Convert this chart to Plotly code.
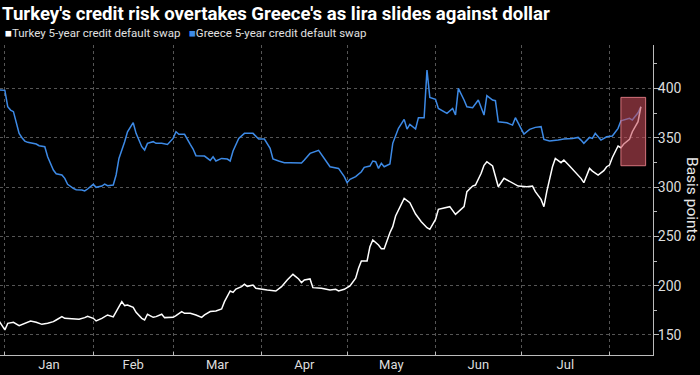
import plotly.graph_objects as go

title_text = "Turkey's credit risk overtakes Greece's as lira slides against dollar"
turkey_name = "Turkey 5-year credit default swap"
greece_name = "Greece 5-year credit default swap"
y_title = "Basis points"

greece_dates = [
    "2017-12-30", "2018-01-01", "2018-01-02", "2018-01-03", "2018-01-04", "2018-01-05", "2018-01-06",
    "2018-01-07", "2018-01-08", "2018-01-09", "2018-01-11", "2018-01-12", "2018-01-13", "2018-01-15",
    "2018-01-16", "2018-01-17", "2018-01-18", "2018-01-19", "2018-01-21", "2018-01-22", "2018-01-23",
    "2018-01-25", "2018-01-26", "2018-01-28", "2018-01-29", "2018-01-30", "2018-02-01", "2018-02-02",
    "2018-02-03", "2018-02-04", "2018-02-05", "2018-02-06", "2018-02-08", "2018-02-09", "2018-02-10",
    "2018-02-11", "2018-02-12", "2018-02-13", "2018-02-15", "2018-02-16", "2018-02-18", "2018-02-19",
    "2018-02-20", "2018-02-22", "2018-02-23", "2018-02-25", "2018-02-27", "2018-03-01", "2018-03-02",
    "2018-03-03", "2018-03-05", "2018-03-07", "2018-03-08", "2018-03-09", "2018-03-12", "2018-03-14",
    "2018-03-15", "2018-03-16", "2018-03-18", "2018-03-20", "2018-03-21", "2018-03-22", "2018-03-24",
    "2018-03-26", "2018-03-29", "2018-03-31", "2018-04-02", "2018-04-04", "2018-04-05", "2018-04-07",
    "2018-04-09", "2018-04-11", "2018-04-13", "2018-04-15", "2018-04-16", "2018-04-18", "2018-04-21",
    "2018-04-22", "2018-04-24", "2018-04-25", "2018-04-28", "2018-04-30", "2018-05-01", "2018-05-02",
    "2018-05-04", "2018-05-06", "2018-05-07", "2018-05-09", "2018-05-10", "2018-05-11", "2018-05-12",
    "2018-05-13", "2018-05-14", "2018-05-16", "2018-05-17", "2018-05-19", "2018-05-21", "2018-05-22",
    "2018-05-23", "2018-05-25", "2018-05-26", "2018-05-28", "2018-05-29", "2018-05-30", "2018-06-01",
    "2018-06-02", "2018-06-05", "2018-06-07", "2018-06-08", "2018-06-09", "2018-06-11", "2018-06-12",
    "2018-06-14", "2018-06-16", "2018-06-18", "2018-06-19", "2018-06-21", "2018-06-22", "2018-06-23",
    "2018-06-26", "2018-06-28", "2018-06-29", "2018-07-02", "2018-07-04", "2018-07-06", "2018-07-08",
    "2018-07-09", "2018-07-11", "2018-07-14", "2018-07-16", "2018-07-19", "2018-07-21", "2018-07-22",
    "2018-07-23", "2018-07-25", "2018-07-26", "2018-07-27", "2018-07-29", "2018-07-31", "2018-08-02",
    "2018-08-04", "2018-08-05", "2018-08-08", "2018-08-09", "2018-08-11", "2018-08-12",
]
greece_cds = [
    398.3, 398.0, 381.4, 378.0, 376.4, 366.0, 354.4,
    350.0, 346.6, 345.3, 344.3, 343.6, 341.9, 340.9,
    330.7, 323.0, 317.2, 313.5, 312.2, 308.8, 302.7,
    298.7, 297.3, 297.0, 296.0, 298.0, 302.7, 299.7,
    300.0, 301.0, 303.0, 301.4, 302.0, 312.2, 329.0,
    336.5, 346.0, 356.0, 365.2, 354.4, 340.9, 337.5,
    344.3, 346.0, 344.3, 344.3, 343.2, 349.3, 356.0,
    353.4, 353.4, 343.2, 338.5, 331.8, 331.4, 327.0,
    330.7, 326.4, 329.0, 328.4, 326.4, 336.5, 349.3,
    354.4, 354.4, 348.6, 348.6, 339.2, 328.4, 326.4,
    324.7, 324.7, 324.3, 324.3, 327.4, 334.1, 337.2,
    333.0, 325.0, 320.6, 318.9, 310.5, 304.4, 307.8,
    310.5, 315.5, 320.0, 321.3, 326.4, 325.7, 318.9,
    324.0, 320.6, 323.3, 344.3, 359.5, 368.6, 358.8,
    363.5, 358.8, 370.3, 370.3, 418.6, 390.9, 388.9,
    379.7, 374.7, 379.7, 373.0, 400.0, 388.2, 381.4,
    380.4, 388.2, 373.0, 392.6, 388.2, 387.5, 366.2,
    365.2, 362.8, 370.3, 353.7, 358.5, 360.5, 361.2,
    348.3, 346.6, 347.6, 348.6, 349.3, 350.3, 347.6,
    344.3, 350.3, 349.3, 354.4, 347.6, 351.0, 351.7,
    359.5, 367.2, 369.6, 367.9, 375.3, 381.4,
]

turkey_dates = [
    "2017-12-30", "2018-01-01", "2018-01-02", "2018-01-04", "2018-01-06", "2018-01-08", "2018-01-10",
    "2018-01-12", "2018-01-14", "2018-01-16", "2018-01-18", "2018-01-19", "2018-01-21", "2018-01-22",
    "2018-01-25", "2018-01-27", "2018-01-29", "2018-01-30", "2018-02-01", "2018-02-02", "2018-02-04",
    "2018-02-06", "2018-02-08", "2018-02-09", "2018-02-11", "2018-02-12", "2018-02-13", "2018-02-15",
    "2018-02-16", "2018-02-18", "2018-02-19", "2018-02-20", "2018-02-22", "2018-02-23", "2018-02-25",
    "2018-02-26", "2018-02-27", "2018-03-01", "2018-03-02", "2018-03-04", "2018-03-05", "2018-03-07",
    "2018-03-09", "2018-03-11", "2018-03-12", "2018-03-14", "2018-03-16", "2018-03-18", "2018-03-19",
    "2018-03-21", "2018-03-22", "2018-03-23", "2018-03-25", "2018-03-26", "2018-03-27", "2018-03-29",
    "2018-03-30", "2018-04-01", "2018-04-03", "2018-04-06", "2018-04-08", "2018-04-10", "2018-04-11",
    "2018-04-12", "2018-04-14", "2018-04-15", "2018-04-16", "2018-04-18", "2018-04-19", "2018-04-22",
    "2018-04-25", "2018-04-27", "2018-04-28", "2018-04-30", "2018-05-02", "2018-05-04", "2018-05-05",
    "2018-05-06", "2018-05-08", "2018-05-09", "2018-05-10", "2018-05-12", "2018-05-13", "2018-05-14",
    "2018-05-16", "2018-05-17", "2018-05-18", "2018-05-20", "2018-05-21", "2018-05-23", "2018-05-25",
    "2018-05-27", "2018-05-29", "2018-05-30", "2018-06-01", "2018-06-02", "2018-06-04", "2018-06-06",
    "2018-06-08", "2018-06-09", "2018-06-11", "2018-06-12", "2018-06-14", "2018-06-15", "2018-06-17",
    "2018-06-18", "2018-06-19", "2018-06-21", "2018-06-22", "2018-06-23", "2018-06-25", "2018-06-27",
    "2018-06-28", "2018-06-30", "2018-07-03", "2018-07-05", "2018-07-06", "2018-07-08", "2018-07-09",
    "2018-07-10", "2018-07-12", "2018-07-13", "2018-07-15", "2018-07-16", "2018-07-18", "2018-07-20",
    "2018-07-22", "2018-07-23", "2018-07-25", "2018-07-26", "2018-07-28", "2018-07-30", "2018-07-31",
    "2018-08-01", "2018-08-02", "2018-08-04", "2018-08-05", "2018-08-06", "2018-08-08", "2018-08-09",
    "2018-08-11", "2018-08-12",
]
turkey_cds = [
    164.2, 155.1, 161.8, 162.9, 159.5, 161.8, 164.2,
    162.9, 160.8, 161.8, 163.5, 165.2, 168.6, 166.9,
    165.9, 165.9, 167.6, 168.9, 166.9, 164.2, 166.9,
    170.3, 168.3, 173.7, 183.8, 179.8, 180.4, 178.1,
    173.0, 166.9, 165.2, 171.0, 167.9, 168.6, 171.0,
    167.6, 167.9, 167.9, 169.6, 173.7, 172.0, 172.0,
    170.3, 167.9, 170.3, 173.7, 174.3, 176.4, 183.8,
    194.6, 193.2, 196.6, 199.0, 201.4, 199.3, 200.6,
    197.3, 196.3, 195.6, 194.6, 199.0, 205.8, 208.5,
    211.5, 206.8, 203.1, 205.8, 206.8, 198.0, 197.3,
    195.6, 196.3, 194.6, 196.3, 199.7, 207.5, 217.6,
    225.0, 225.0, 239.5, 246.3, 241.2, 237.5, 237.5,
    253.7, 259.8, 270.6, 281.8, 288.5, 284.1, 272.6,
    264.9, 258.8, 257.1, 267.2, 277.4, 279.1, 280.1,
    272.3, 275.0, 280.1, 295.3, 301.0, 302.0, 313.9,
    322.0, 325.7, 321.3, 310.5, 300.3, 308.8, 305.4,
    304.4, 301.0, 300.3, 301.0, 295.3, 287.5, 280.1,
    295.3, 320.6, 329.0, 324.7, 327.4, 321.3, 315.5,
    308.8, 304.4, 318.9, 316.2, 312.2, 316.6, 320.6,
    322.3, 330.0, 341.6, 339.9, 343.6, 348.3, 356.1,
    366.2, 381.4,
]

# highlighted window (dates and basis-point bounds)
highlight_x = ["2018-08-05", "2018-08-13 16:00"]
highlight_y = [321.6, 390.9]

x_range = ["2017-12-30 07:00", "2018-08-16 06:00"]
y_range = [129.7, 444.0]
y_ticks = [150, 200, 250, 300, 350, 400]
y_minor_ticks = [175, 225, 275, 325, 375, 425]

TURKEY_COLOR = "#ffffff"
GREECE_COLOR = "#3d8ae6"
FONT = "Liberation Sans Narrow, Arial Narrow, Roboto, sans-serif"

fig = go.Figure()
fig.add_trace(go.Scatter(x=greece_dates, y=greece_cds, mode="lines", name=greece_name,
                         line=dict(color=GREECE_COLOR, width=1.5), showlegend=False))
fig.add_trace(go.Scatter(x=turkey_dates, y=turkey_cds, mode="lines", name=turkey_name,
                         line=dict(color=TURKEY_COLOR, width=1.5), showlegend=False))

fig.add_shape(type="rect", xref="x", yref="y",
              x0=highlight_x[0], x1=highlight_x[1], y0=highlight_y[0], y1=highlight_y[1],
              fillcolor="rgba(200,75,90,0.58)", line=dict(color="rgba(235,130,140,0.85)", width=1),
              layer="above")

legend_html = (f"<span style='color:{TURKEY_COLOR}'>■</span>{turkey_name}"
               f"&nbsp;&nbsp;&nbsp;<span style='color:{GREECE_COLOR}'>■</span>{greece_name}")
fig.add_annotation(text=legend_html, xref="paper", yref="paper", x=0.004, y=1.0387,
                   xanchor="left", yanchor="middle", showarrow=False,
                   font=dict(family=FONT, size=11.5, color="#e0e0e0"))
fig.add_annotation(text=y_title, xref="paper", yref="paper", x=1.0597, y=0.5,
                   xanchor="center", yanchor="middle", textangle=90, showarrow=False,
                   font=dict(family=FONT, size=15.5, color="#e8e8e8"))

fig.update_layout(
    width=700, height=375,
    margin=dict(l=0, r=47, t=45, b=20),
    paper_bgcolor="#000000", plot_bgcolor="#000000",
    title=dict(text=f"<b>{title_text}</b>", x=0.003, xanchor="left", xref="container",
               y=1 - 13 / 375, yref="container", yanchor="middle",
               font=dict(family=FONT, size=18.6, color="#ffffff")),
    font=dict(family=FONT, color="#dddddd"),
    showlegend=False,
    xaxis=dict(type="date", range=x_range, dtick="M1", tick0="2018-01-01",
               tickformat="%b", ticklabelmode="period",
               showgrid=True, gridcolor="#555555", griddash="dot", gridwidth=1,
               showline=True, linecolor="#bbbbbb", linewidth=1,
               ticks="inside", ticklen=3, tickcolor="#bbbbbb", ticklabelstandoff=-3,
               tickfont=dict(family=FONT, size=13, color="#dddddd"), zeroline=False,
               fixedrange=True),
    yaxis=dict(side="right", range=y_range, tickvals=y_ticks,
               showgrid=True, gridcolor="#555555", griddash="dot", gridwidth=1,
               showline=True, linecolor="#bbbbbb", linewidth=1,
               ticks="outside", ticklen=5, tickcolor="#bbbbbb", ticklabelstandoff=-4,
               minor=dict(tickvals=y_minor_ticks, ticks="outside",
                          ticklen=3, tickcolor="#bbbbbb", showgrid=False),
               tickfont=dict(family=FONT, size=14, color="#dddddd"), zeroline=False,
               fixedrange=True),
)

fig.write_html("out.html", config={"displayModeBar": False},
               post_script="document.body.style.margin='0';")
